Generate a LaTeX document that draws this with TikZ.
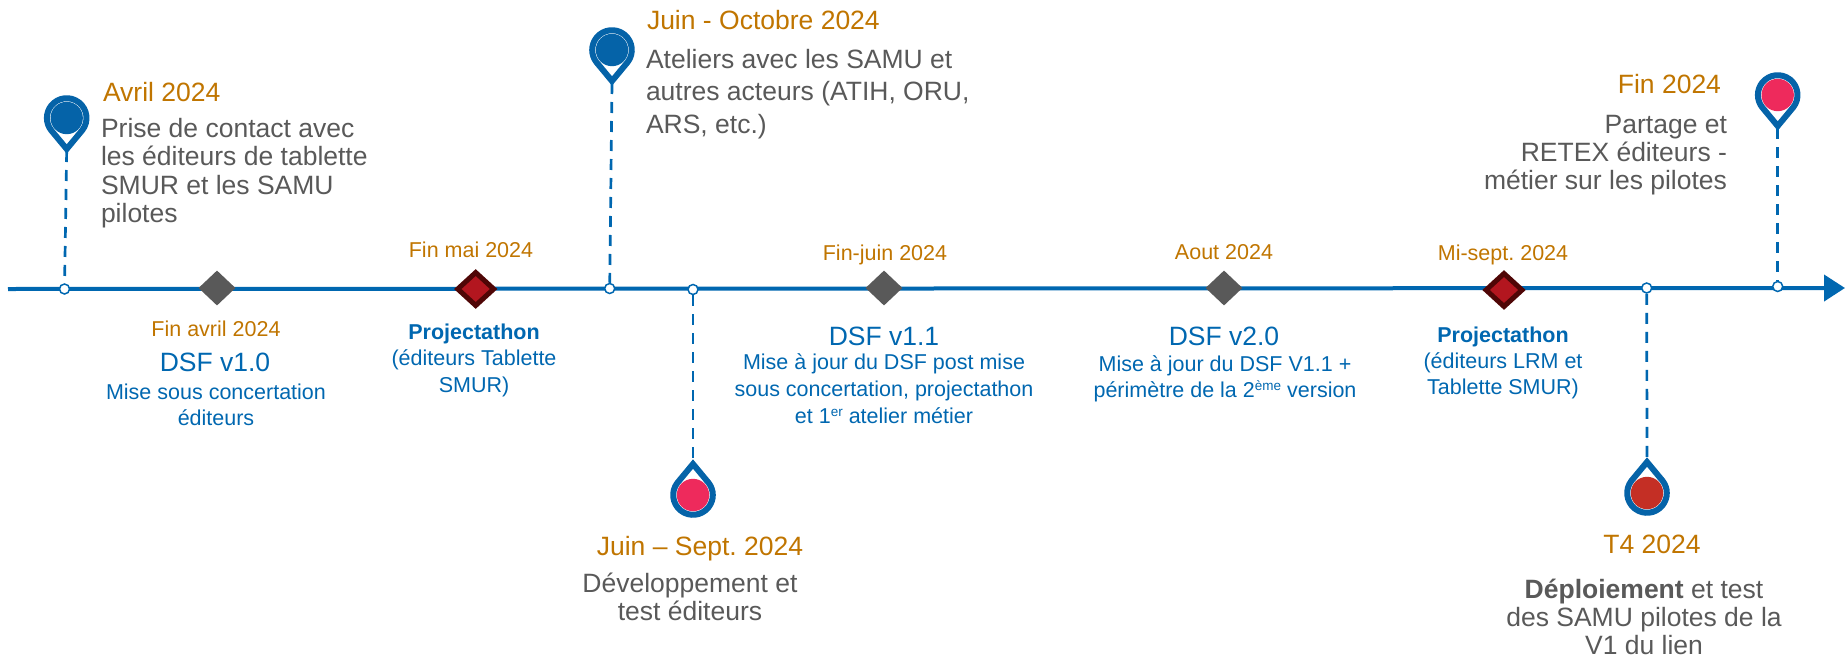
\documentclass[tikz,border=0pt]{standalone}
\usepackage{fontspec}
\setmainfont{Liberation Sans}
\usetikzlibrary{shapes.geometric,arrows.meta}
\definecolor{axisblue}{HTML}{0067B0}
\definecolor{pinblue}{HTML}{0563A8}
\definecolor{dateorange}{HTML}{C07500}
\definecolor{txtgrey}{HTML}{595959}
\definecolor{pinpink}{HTML}{EE2A5C}
\definecolor{pinred}{HTML}{C42F25}
\definecolor{diared}{HTML}{B3161F}
\definecolor{diadark}{HTML}{4F0606}
\newcommand{\supsmall}[1]{\raisebox{0.3em}{\fontsize{13.5}{13.5}\selectfont #1}}
\tikzset{
  pin/.pic={
    \path[fill=white,draw=pinblue,line width=6,miter limit=10]
      (0,31) -- (38.4:19.8) arc[start angle=38.4,end angle=-218.4,radius=19.8] -- cycle;
    \fill[#1] (0,0) circle[radius=16.2];
    \coordinate (-tip) at (0,33);
  },
  dotm/.style={circle,draw=axisblue,fill=white,line width=1.5,minimum size=10,inner sep=0},
  greydia/.style={diamond,fill=txtgrey,minimum width=37,minimum height=35,inner sep=0},
  reddia/.style={diamond,fill=diared,draw=diadark,line width=5,minimum width=38,minimum height=35,inner sep=0},
  axisline/.style={axisblue,line width=4,-{Triangle[length=21,width=26]}},
  stem/.style={axisblue,line width=2.7,dash pattern=on 11 off 8},
  lbl/.style={inner sep=0,outer sep=0},
  bigdate/.style={lbl,text=dateorange,font=\fontsize{26.5}{30}\selectfont},
  smalldate/.style={lbl,text=dateorange,font=\fontsize{21.5}{25}\selectfont},
  greytxt/.style={lbl,text=txtgrey,font=\fontsize{26.5}{28.5}\selectfont},
  dsf/.style={lbl,text=axisblue,font=\fontsize{26.5}{30}\selectfont},
  bluetxt/.style={lbl,text=axisblue,align=center,font=\fontsize{21.5}{27}\selectfont},
}
\begin{document}
\frenchspacing
\begin{tikzpicture}[x=1pt,y=-1pt]
\useasboundingbox (0,0) rectangle (1845,656);
\coordinate (axL) at (8,289);
\coordinate (axR) at (1845,288);
\draw[axisline] (axL) -- (axR);
% pins
\pic (p1) at (66.7,118) {pin={pinblue}};
\pic (p2) at (612,50) {pin={pinblue}};
\pic[rotate=180] (p3) at (693,495) {pin={pinpink}};
\pic[rotate=180] (p4) at (1647,493) {pin={pinred}};
\pic (p5) at (1777.7,95) {pin={pinpink}};
% milestones on the axis
\node[dotm] (d1) at (64.5,289) {};
\node[dotm] (d2) at (609.7,288.5) {};
\node[dotm] (d3) at (693,289.5) {};
\node[dotm] (d4) at (1646.7,288) {};
\node[dotm] (d5) at (1777.7,286.5) {};
\node[greydia] (g1) at (217,288) {};
\node[greydia] (g2) at (884,288) {};
\node[greydia] (g3) at (1224,288) {};
\node[reddia] (r1) at (475.7,289) {};
\node[reddia] (r2) at (1504,290) {};
% stems
\draw[stem] (p1-tip) -- (d1);
\draw[stem] (p2-tip) -- (d2);
\draw[stem] (d3) -- (p3-tip);
\draw[stem] (d4) -- (p4-tip);
\draw[stem] (p5-tip) -- (d5);
% upper pin labels
\node[bigdate,anchor=base west] (t1) at (103,101) {Avril 2024};
\node[greytxt,anchor=base west,align=left] (b1) at (101,222.5) {Prise de contact avec\\les éditeurs de tablette\\SMUR et les SAMU\\pilotes};
\node[bigdate,anchor=base west] (t2) at (647,29) {Juin - Octobre 2024};
\node[greytxt,anchor=base west,align=left,font=\fontsize{26.5}{32.5}\selectfont] (b2) at (646,133) {Ateliers avec les SAMU et\\autres acteurs (ATIH, ORU,\\ARS, etc.)};
\node[bigdate,anchor=base east] (t5) at (1721,93) {Fin 2024};
\node[greytxt,anchor=base east,align=right,font=\fontsize{26.5}{28}\selectfont] (b5) at (1727,189) {Partage et\\RETEX éditeurs -\\métier sur les pilotes};
% lower pin labels
\node[bigdate,anchor=base] (t3) at (700,555) {Juin – Sept. 2024};
\node[greytxt,anchor=base,align=center,font=\fontsize{26.5}{28}\selectfont] (b3) at (690,620) {Développement et\\test éditeurs};
\node[bigdate,anchor=base] (t4) at (1652,553) {T4 2024};
\node[greytxt,anchor=base,align=center,font=\fontsize{26.5}{28}\selectfont] (b4) at (1644,654) {\textbf{Déploiement} et test\\des SAMU pilotes de la\\V1 du lien};
% axis labels
\node[smalldate,anchor=base] (t6) at (216,336) {Fin avril 2024};
\node[dsf,anchor=base] (t7) at (215,371) {DSF v1.0};
\node[bluetxt,anchor=base,font=\fontsize{21.5}{25.5}\selectfont] (b6) at (216,425) {Mise sous concertation\\éditeurs};
\node[smalldate,anchor=base] (t8) at (471,257) {Fin mai 2024};
\node[bluetxt,anchor=base,font=\fontsize{21.5}{26.5}\selectfont] (b7) at (474,392) {\textbf{Projectathon}\\(éditeurs Tablette\\SMUR)};
\node[smalldate,anchor=base] (t9) at (885,260) {Fin-juin 2024};
\node[dsf,anchor=base] (t10) at (884,345) {DSF v1.1};
\node[bluetxt,anchor=base] (b8) at (884,423) {Mise à jour du DSF post mise\\sous concertation, projectathon\\et 1\supsmall{er} atelier métier};
\node[smalldate,anchor=base] (t11) at (1224,259) {Aout 2024};
\node[dsf,anchor=base] (t12) at (1224,345) {DSF v2.0};
\node[bluetxt,anchor=base,font=\fontsize{21.5}{26}\selectfont] (b9) at (1225,397) {Mise à jour du DSF V1.1 +\\périmètre de la 2\supsmall{ème} version};
\node[smalldate,anchor=base] (t13) at (1503,260) {Mi-sept. 2024};
\node[bluetxt,anchor=base,font=\fontsize{21.5}{26}\selectfont] (b10) at (1503,394) {\textbf{Projectathon}\\(éditeurs LRM et\\Tablette SMUR)};
\end{tikzpicture}
\end{document}
